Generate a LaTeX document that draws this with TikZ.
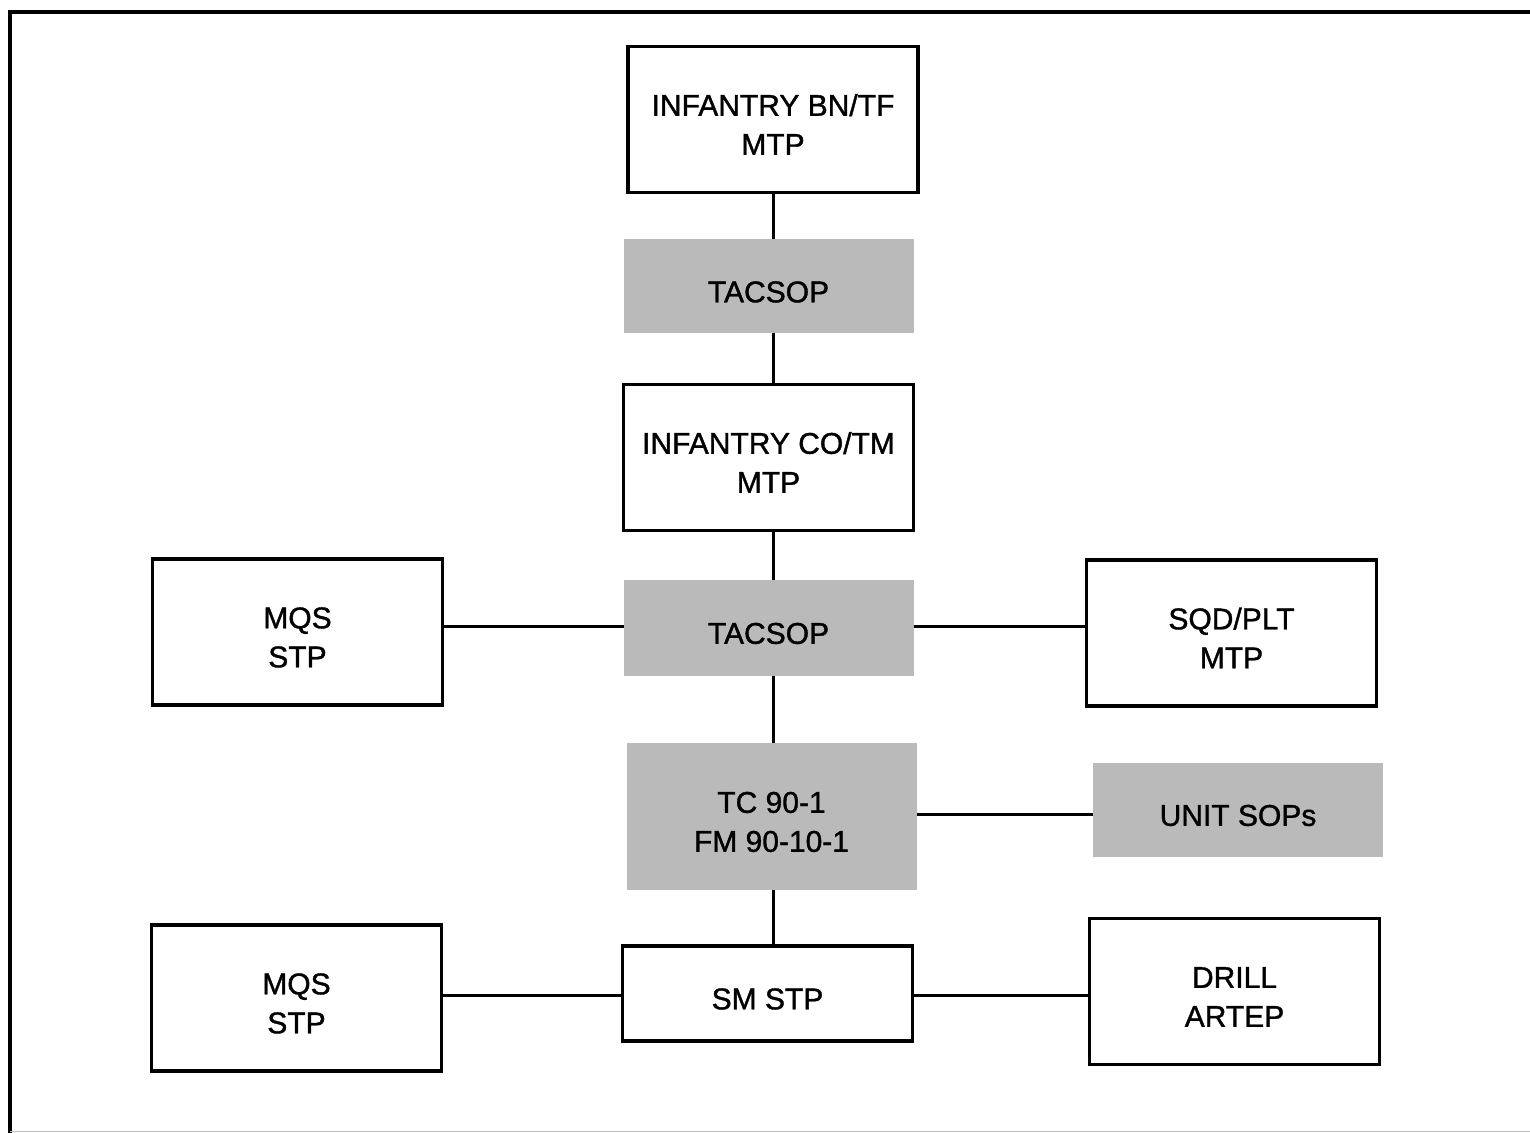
\documentclass[tikz,border=0pt]{standalone}
\usepackage{fontspec}
\setmainfont{Liberation Sans}
\newfontfamily\heavy{Liberation Sans}[FakeBold=1.2]
\newcommand\lbl[1]{\raisebox{-4pt}[\height][\depth]{\begin{tabular}{@{}c@{}}#1\end{tabular}}}
\begin{document}
\begin{tikzpicture}[x=0.5pt,y=-0.5pt,
  every node/.style={font=\heavy\fontsize{15}{19.5}\selectfont, inner sep=0pt, outer sep=0pt},
  box/.style={draw=black, line width=1.8pt, fill=white, minimum width=145pt, minimum height=73pt},
  sbox/.style={draw=none, fill=black!27, minimum width=145pt, minimum height=47pt},
  link/.style={line width=1.5pt}]
\useasboundingbox (0,0) rectangle (1530,1133);
\draw[line width=2pt] (10,1133) -- (10,12) -- (1530,12);
\draw[line width=0.5pt, black!25] (10,1131) -- (1530,1131);

\node[box] (bn) at (773,119.5) {\lbl{INFANTRY BN/TF\\MTP}};
\node[sbox] (t1) at (768.5,286.5) {\lbl{TACSOP}};
\node[box] (co) at (768.5,457.5) {\lbl{INFANTRY CO/TM\\MTP}};
\node[sbox, minimum height=48pt] (t2) at (768.5,628) {\lbl{TACSOP}};
\node[box] (mqs1) at (297.5,632) {\lbl{MQS\\STP}};
\node[box] (sqd) at (1231.5,633) {\lbl{SQD/PLT\\MTP}};
\node[sbox, minimum height=73.5pt] (tc) at (771.5,816.5) {\lbl{TC 90-1\\FM 90-10-1}};
\node[sbox] (unit) at (1238,810) {\lbl{UNIT SOPs}};
\node[box, minimum height=47.5pt] (sm) at (767.5,993.5) {\lbl{SM STP}};
\node[box] (mqs2) at (296.5,998) {\lbl{MQS\\STP}};
\node[box] (drill) at (1234.5,991.5) {\lbl{DRILL\\ARTEP}};

\draw[link] (bn.south -| 773,0) -- (t1.north -| 773,0);
\draw[link] (t1.south -| 773,0) -- (co.north -| 773,0);
\draw[link] (co.south -| 773,0) -- (t2.north -| 773,0);
\draw[link] (t2.south -| 773,0) -- (tc.north -| 773,0);
\draw[link] (tc.south -| 773,0) -- (sm.north -| 773,0);
\draw[link] (mqs1.east |- 0,626) -- (t2.west |- 0,626);
\draw[link] (t2.east |- 0,626) -- (sqd.west |- 0,626);
\draw[link] (tc.east |- 0,814) -- (unit.west |- 0,814);
\draw[link] (mqs2.east |- 0,995) -- (sm.west |- 0,995);
\draw[link] (sm.east |- 0,995) -- (drill.west |- 0,995);
\end{tikzpicture}
\end{document}
